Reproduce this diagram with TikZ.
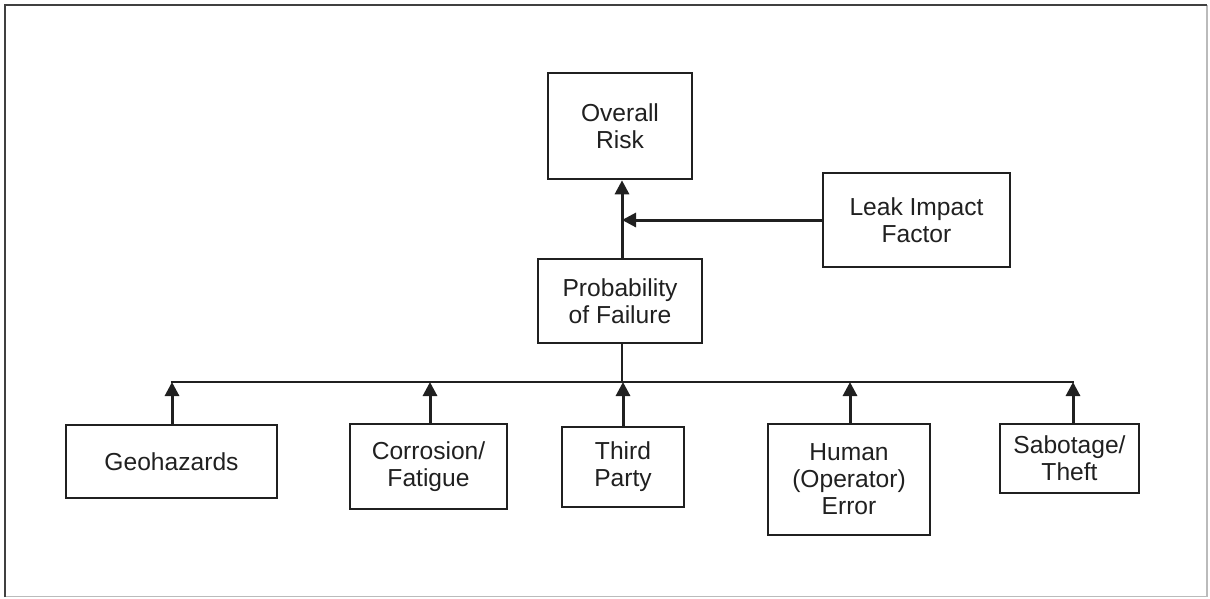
\documentclass[tikz,border=0pt]{standalone}
\usepackage{fontspec}
\setmainfont{Liberation Sans}
\usetikzlibrary{arrows.meta}
\definecolor{ink}{HTML}{202020}
\definecolor{framedark}{HTML}{404040}
\definecolor{framelight}{HTML}{BBBBBB}
\begin{document}
\begin{tikzpicture}[x=1pt,y=-1pt,
  box/.style={draw=ink,line width=2.6pt,rectangle,inner sep=0pt,align=center,
    text=ink,font=\fontsize{24.6}{27}\selectfont},
  link/.style={draw=ink,line width=2.5pt},
  arr/.style={draw=ink,line width=3pt,-{Triangle[length=14pt,width=14pt]}}]
\useasboundingbox (0,0) rectangle (1210,598);
% frame
\draw[framelight,line width=1.2pt] (1207,5) -- (1207,596.5) -- (5,596.5);
\draw[framedark,line width=2.2pt] (5,597) -- (5,5) -- (1207,5);
% nodes
\node[box,minimum width=144pt,minimum height=106pt] (or) at (620,126) {Overall\\Risk};
\node[box,minimum width=187pt,minimum height=94pt] (lif) at (916.5,220) {Leak Impact\\Factor};
\node[box,minimum width=164pt,minimum height=84pt] (pof) at (620,301) {Probability\\of Failure};
\node[box,minimum width=211pt,minimum height=73pt] (geo) at (171.5,461.5) {Geohazards};
\node[box,minimum width=157pt,minimum height=85pt] (cor) at (428.5,466.5) {Corrosion/\\Fatigue};
\node[box,minimum width=122pt,minimum height=80pt] (tp) at (623,467) {Third\\Party};
\node[box,minimum width=162pt,minimum height=111pt] (hum) at (849,479.5) {Human\\(Operator)\\Error};
\node[box,minimum width=139pt,minimum height=69pt] (sab) at (1069.5,458.5) {Sabotage/\\Theft};
% helper coordinates
\coordinate (col) at (622,0);
\coordinate (bus) at (0,382);
\coordinate (busL) at (172,382);
\coordinate (busR) at (1073,382);
% top connectors
\draw[arr] (pof.north -| col) -- (or.south -| col);
\draw[arr] (lif.west) -- (lif.west -| col);
\draw[link] (pof.south -| col) -- (col |- bus);
\draw[link] ([xshift=-1.2pt]busL) -- ([xshift=1.2pt]busR);
% bottom arrows
\draw[arr] (geo.north -| busL) -- (busL);
\draw[arr] ([xshift=1.5pt]cor.north) -- ([xshift=1.5pt]cor.north |- bus);
\draw[arr] (tp.north) -- (tp.north |- bus);
\draw[arr] ([xshift=1pt]hum.north) -- ([xshift=1pt]hum.north |- bus);
\draw[arr] (sab.north -| busR) -- (busR);
\end{tikzpicture}
\end{document}
